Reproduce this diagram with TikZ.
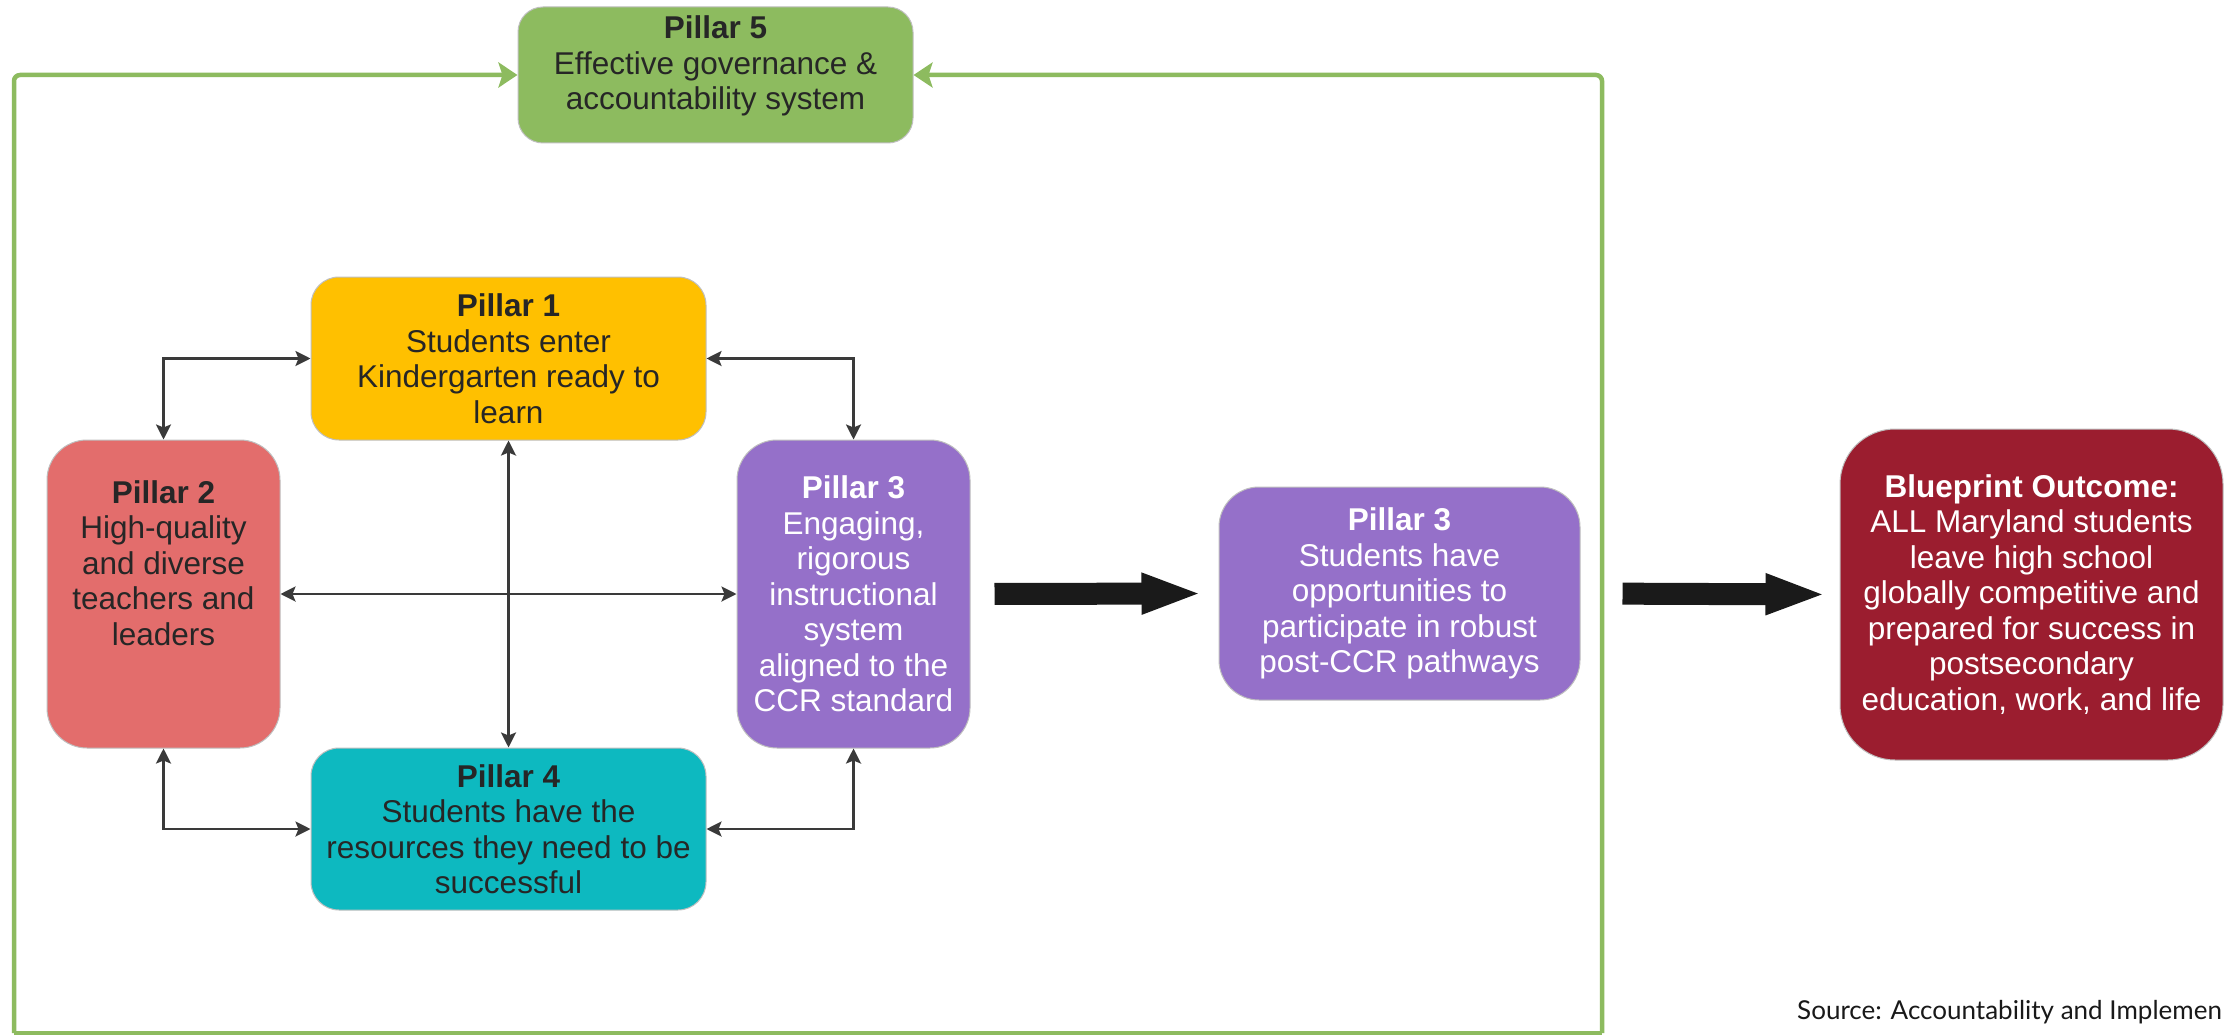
\documentclass[tikz,border=0pt]{standalone}
\usepackage{fontspec}
\setmainfont{Liberation Sans}
\newfontfamily\latofont{Lato}
\usetikzlibrary{arrows.meta,calc}
\definecolor{pgreen}{HTML}{8DBB5F}
\definecolor{pyellow}{HTML}{FFC000}
\definecolor{pred}{HTML}{E36D6C}
\definecolor{ppurple}{HTML}{9570C9}
\definecolor{pteal}{HTML}{0DB9C0}
\definecolor{pmaroon}{HTML}{9B1D2F}
\definecolor{ptext}{HTML}{262626}
\definecolor{pconn}{HTML}{3A3A3A}
\definecolor{pbig}{HTML}{1A1A1A}
\tikzset{
  boxbase/.style={rectangle, draw=black!25, line width=1pt, inner sep=0pt, align=center,
    font=\fontsize{31.5}{35.5}\selectfont, text=ptext},
  txt/.style={align=center, inner sep=0pt, font=\fontsize{31.5}{35.5}\selectfont, text=ptext},
  conn/.style={draw=pconn, line width=2.6pt, >={Stealth[length=15pt,width=15pt,inset=3pt]}, <->},
  bigarrow/.style={draw=pbig, line width=22pt, -{Triangle[length=61pt,width=37pt]}},
  gframe/.style={draw=pgreen, line width=4.5pt, rounded corners=6pt},
  garrow/.style={-{Stealth[length=19pt,width=25pt,inset=4pt]}}
}
\begin{document}
\begin{tikzpicture}[x=1pt,y=-1pt]
\useasboundingbox (0,0) rectangle (2226,1035);
\fill[white] (0,0) rectangle (2226,1035);
\clip (0,0) rectangle (2226,1035);

% boxes
\node[boxbase, fill=pgreen, rounded corners=25pt, minimum width=395pt, minimum height=136pt] (p5) at (715.5,75) {};
\node[txt] (p5t) at ($(p5.center)+(0,-9)$) {\textbf{Pillar 5}\\Effective governance \&\\accountability system};

\node[boxbase, fill=pyellow, rounded corners=28pt, minimum width=395pt, minimum height=163pt] (p1) at (508.5,358.5)
  {\textbf{Pillar 1}\\Students enter\\Kindergarten ready to\\learn};

\node[boxbase, fill=pred, rounded corners=40pt, minimum width=233pt, minimum height=308pt] (p2) at (163.5,594) {};
\node[txt] (p2t) at ($(p2.center)+(0,-31)$) {\textbf{Pillar 2}\\High-quality\\and diverse\\teachers and\\leaders};

\node[boxbase, fill=ppurple, text=white, rounded corners=40pt, minimum width=233pt, minimum height=308pt] (p3a) at (853.5,594)
  {\textbf{Pillar 3}\\Engaging,\\rigorous\\instructional\\system\\aligned to the\\CCR standard};

\node[boxbase, fill=pteal, rounded corners=28pt, minimum width=395pt, minimum height=162pt] (p4) at (508.5,829)
  {\textbf{Pillar 4}\\Students have the\\resources they need to be\\successful};

\node[boxbase, fill=ppurple, text=white, rounded corners=40pt, minimum width=361pt, minimum height=213pt] (p3b) at (1399.5,593.5)
  {\textbf{Pillar 3}\\Students have\\opportunities to\\participate in robust\\post-CCR pathways};

\node[boxbase, fill=pmaroon, text=white, rounded corners=55pt, minimum width=383pt, minimum height=331pt] (out) at (2031.5,594.5)
  {\textbf{Blueprint Outcome:}\\ALL Maryland students\\leave high school\\globally competitive and\\prepared for success in\\postsecondary\\education, work, and life};

% green frame
\coordinate (fl) at (14,1033);
\coordinate (fr) at (1602,1033);
\draw[gframe] (fl) -- (fr);
\draw[gframe, garrow] (fl) |- (p5.west);
\draw[gframe, garrow] (fr) |- (p5.east);

% connectors
\draw[conn] (p1.west) -| (p2.north);
\draw[conn] (p1.east) -| (p3a.north);
\draw[conn] (p2.south) |- (p4.west);
\draw[conn] (p3a.south) |- (p4.east);
\draw[conn] (p1.south) -- (p4.north);
\draw[conn] (p2.east) -- (p3a.west);

% big arrows
\draw[bigarrow, shorten <=24pt, shorten >=16pt] (p3a.east) -- (p3b.west);
\draw[bigarrow, shorten <=42pt, shorten >=13pt] (p3b.east) -- (out.west);

% source
\node[anchor=west, inner sep=0pt, font=\latofont\fontsize{26}{30}\selectfont, text=black!90] (src) at (1797,1012)
  {Source: Accountability and Implemen};
\end{tikzpicture}
\end{document}
